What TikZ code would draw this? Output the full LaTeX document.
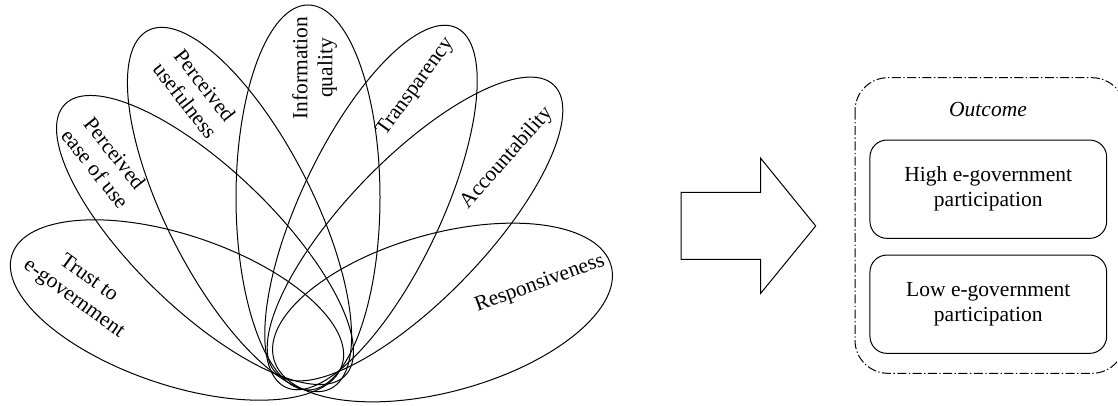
\documentclass[tikz,border=0pt]{standalone}
\usepackage{fontspec}
\setmainfont{Liberation Serif}
\usetikzlibrary{shapes.geometric}

\tikzset{
  petal/.style={draw, shape=ellipse, inner sep=0pt, outer sep=0pt, line width=1pt},
  lbl/.style={inner sep=0pt, align=center, font=\fontsize{21.5}{25}\selectfont},
  groupframe/.style={draw, rounded corners=33pt, line width=1pt,
    dash pattern=on 9pt off 2.5pt on 1.3pt off 2.5pt},
  resultbox/.style={draw, rounded corners=17pt, line width=1pt,
    minimum width=236.7pt, minimum height=98.3pt, inner sep=0pt,
    align=center, font=\fontsize{21.5}{25}\selectfont},
  blockarrow/.style={draw, line width=1pt, line join=miter}
}

\begin{document}
\begin{tikzpicture}[x=1pt, y=-1pt]
\useasboundingbox (0,0) rectangle (1118,406);

% petals of the flower (centre, semi-axes, tilt)
\node[petal, minimum width=348pt, minimum height=150pt, rotate=161.4] (pTrust) at (177,310) {};
\node[petal, minimum width=390pt, minimum height=140pt, rotate=136]   (pEase)  at (205,240) {};
\node[petal, minimum width=402pt, minimum height=146pt, rotate=117]   (pUse)   at (239.5,209.5) {};
\node[petal, minimum width=385pt, minimum height=144pt, rotate=90]    (pInfo)  at (308,197.5) {};
\node[petal, minimum width=398pt, minimum height=140pt, rotate=64.6]  (pTrans) at (371,207.5) {};
\node[petal, minimum width=400pt, minimum height=140pt, rotate=46]    (pAcc)   at (415,229) {};
\node[petal, minimum width=350pt, minimum height=158pt, rotate=15.5]  (pResp)  at (442.5,312.5) {};

% petal labels
\node[lbl, rotate=-36]   (lTrust) at (81,289)    {Trust to\\e-government};
\node[lbl, rotate=-51.5] (lEase)  at (105,161)   {Perceived\\ease of use};
\node[lbl, rotate=-52]   (lUse)   at (195,93)    {Perceived\\usefulness};
\node[lbl, rotate=90]    (lInfo)  at (314.5,68)  {Information\\quality};
\node[lbl, rotate=54]    (lTrans) at (415.8,87)  {Transparency};
\node[lbl, rotate=48.5]  (lAcc)   at (506.7,158) {Accountability};
\node[lbl, rotate=20]    (lResp)  at (540,284)   {Responsiveness};

% block arrow
\draw[blockarrow] (681,192.3) -- (760.7,192.3) -- (760.7,158.3) -- (815.7,226)
  -- (760.7,293.3) -- (760.7,259.3) -- (681,259.3) -- cycle;

% outcome group: dash-dot frame, its right side lying just past the page edge
\draw[groupframe] (855,77.7) rectangle (1125,373.3);
\node[lbl, anchor=base, font=\fontsize{21.5}{25}\selectfont\itshape] (otitle) at (988,117) {Outcome};
\node[resultbox] (high) at (988.3,189.2) {High e-government\\participation};
\node[resultbox] (low)  at (988.3,304.2) {Low e-government\\participation};
\end{tikzpicture}
\end{document}
